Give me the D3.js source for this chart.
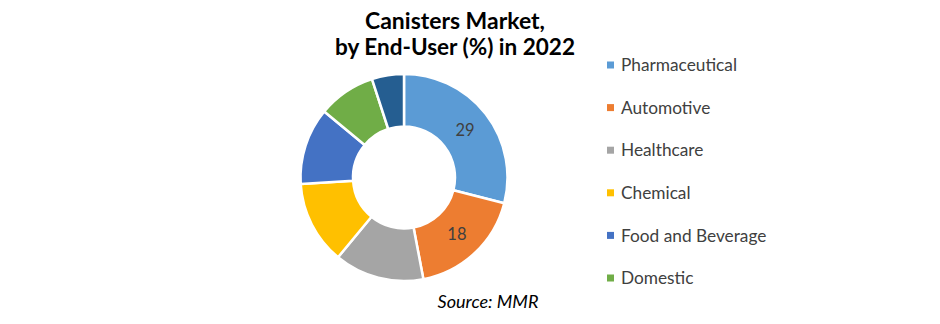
<!DOCTYPE html>
<html><head><meta charset="utf-8">
<script src="https://cdn.jsdelivr.net/npm/d3@7"></script>
<style>html,body{margin:0;padding:0;background:#fff;}svg{display:block;}</style>
</head><body>
<svg id="chart" width="940" height="324"></svg>
<script>
const categories = ["Pharmaceutical","Automotive","Healthcare","Chemical","Food and Beverage","Domestic","Others"];
const values = [29,18,14,13,12,9,5];
const colors = ["#5B9BD5","#ED7D31","#A5A5A5","#FFC000","#4472C4","#70AD47","#255E91"];
const legendCategories = ["Pharmaceutical","Automotive","Healthcare","Chemical","Food and Beverage","Domestic"];
const labeledCategories = ["Pharmaceutical","Automotive"];
const titleLines = ["Canisters Market,","by End-User (%) in 2022"];
const sourceText = "Source: MMR";

const svg = d3.select("#chart");
const FONT = "Lato, 'Open Sans', sans-serif";

function fitText(sel, targetW){
  const w = sel.node().getComputedTextLength();
  const fs = parseFloat(sel.attr("font-size"));
  sel.attr("font-size", (fs*targetW/w).toFixed(2));
}

// Title
const t1 = svg.append("text").attr("x",455).attr("y",29).attr("text-anchor","middle")
  .attr("font-family",FONT).attr("font-weight","bold").attr("font-size",20).attr("fill","#000").text(titleLines[0]);
fitText(t1,180);
const t2 = svg.append("text").attr("x",455).attr("y",55).attr("text-anchor","middle")
  .attr("font-family",FONT).attr("font-weight","bold").attr("font-size",20).attr("fill","#000").text(titleLines[1]);
fitText(t2,240);

// Donut
const cx = 404, cy = 177.5, rOuter = 103.5, rInner = 51;
const data = categories.map((c,i)=>({cat:c, value:values[i], color:colors[i]}));
const pie = d3.pie().value(d=>d.value).sort(null);
const arc = d3.arc().innerRadius(rInner).outerRadius(rOuter);
const color = d3.scaleOrdinal().domain(categories).range(colors);
const g = svg.append("g").attr("transform",`translate(${cx},${cy})`);
const arcs = pie(data);
g.selectAll("path").data(arcs).join("path")
  .attr("d",arc).attr("fill",d=>color(d.data.cat))
  .attr("stroke","#fff").attr("stroke-width",2.5).attr("stroke-linejoin","round");

const labelArc = d3.arc().innerRadius((rInner+rOuter)/2).outerRadius((rInner+rOuter)/2);
g.selectAll("text.lbl").data(arcs.filter(d=>labeledCategories.includes(d.data.cat))).join("text")
  .attr("class","lbl")
  .attr("transform",d=>`translate(${labelArc.centroid(d)})`)
  .attr("text-anchor","middle").attr("dy","0.36em")
  .attr("font-family",FONT).attr("font-size",16.5).attr("fill","#404040")
  .text(d=>d.data.value);

// Legend
const legendY = d3.scalePoint().domain(legendCategories).range([65,278]);
const lg = svg.append("g");
legendCategories.forEach(c=>{
  const y = legendY(c);
  lg.append("rect").attr("x",607).attr("y",y-3.5).attr("width",7).attr("height",7).attr("fill",color(c));
  lg.append("text").attr("x",621).attr("y",y).attr("dy","0.36em")
    .attr("font-family",FONT).attr("font-size",16).attr("fill","#404040").text(c);
});
// fit legend font using the first label
const first = lg.select("text");
const w0 = first.node().getComputedTextLength();
const fsL = 16*116/w0;
lg.selectAll("text").attr("font-size",fsL.toFixed(2));

// Source
const s = svg.append("text").attr("x",488).attr("y",308).attr("text-anchor","middle")
  .attr("font-family",FONT).attr("font-style","italic").attr("font-size",16).attr("fill","#000").text(sourceText);
fitText(s,101);
</script>
</body></html>
